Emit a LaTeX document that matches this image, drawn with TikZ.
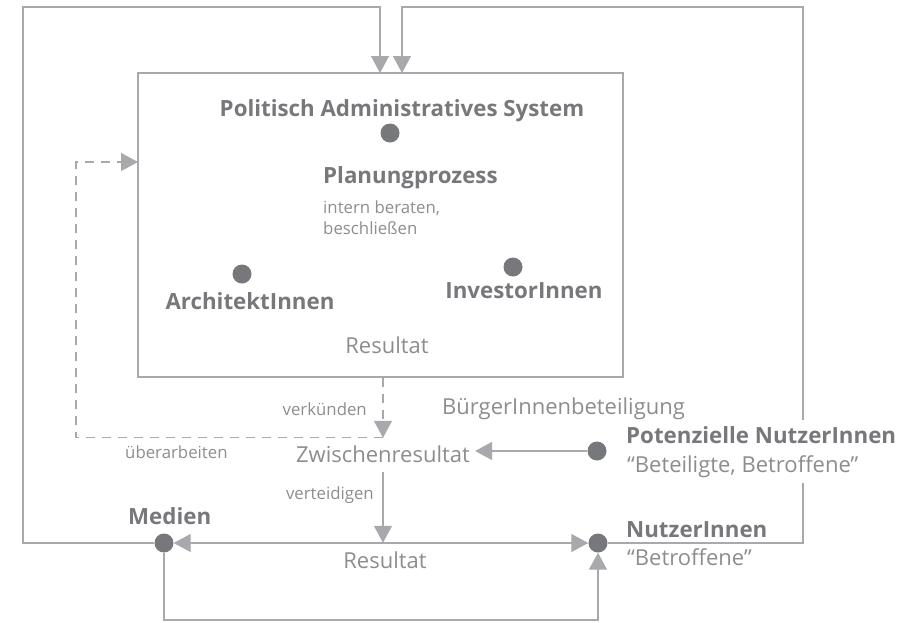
\documentclass[tikz,border=0pt]{standalone}
\usepackage{fontspec}
\setmainfont{Open Sans}
\usetikzlibrary{arrows.meta}
\definecolor{linegray}{HTML}{A8A9AC}
\definecolor{dotgray}{HTML}{77787B}
\definecolor{textgray}{HTML}{8C8D90}
\definecolor{labelgray}{HTML}{77787B}
\pgfdeclarelayer{background}
\pgfsetlayers{background,main}
\tikzset{
  >={Triangle[width=18pt,length=17pt]},
  plain/.style={draw=linegray, line width=1.3pt},
  conn/.style={plain, ->},
  both/.style={plain, <->},
  dconn/.style={plain, ->, dash pattern=on 9pt off 7pt},
  dot/.style={circle, fill=dotgray, minimum size=19pt, inner sep=0pt},
  actor/.style={font=\fontsize{22.3}{26}\selectfont\bfseries, text=labelgray, inner sep=0pt},
  plaintext/.style={font=\fontsize{22}{26}\selectfont, text=textgray, inner sep=0pt},
  note/.style={font=\fontsize{16.8}{20}\selectfont, text=textgray, inner sep=0pt},
}
\begin{document}
\begin{tikzpicture}[x=1pt,y=-1pt]
\useasboundingbox (0,0) rectangle (916,622);

% planning system box
\node[plain, minimum width=485pt, minimum height=304pt, inner sep=0pt] (box) at (380.5,225) {};
\coordinate (inA) at (380,73);
\coordinate (inB) at (402,73);
\coordinate (revin) at (138,162);

% actors inside the box
\node[actor, anchor=base] (pastext) at (402,116) {Politisch Administratives System};
\node[dot] (pas) at (390,133) {};
\node[actor, anchor=base west] (plan) at (323,183) {Planungprozess};
\node[note, anchor=base west] (beraten) at (323,213) {intern beraten,};
\node[note, anchor=base west] (beschl) at (323,234) {beschließen};
\node[dot] (arch) at (242,274) {};
\node[actor, anchor=base] (archtext) at (250,309) {ArchitektInnen};
\node[dot] (inv) at (513,267) {};
\node[actor, anchor=base] (invtext) at (524,298) {InvestorInnen};
\node[plaintext, anchor=base] (res1) at (387,353) {Resultat};

% intermediate and final result
\node[plaintext, anchor=base, text height=19pt, text depth=5pt, inner ysep=5pt, inner xsep=5pt] (zw) at (383,462) {Zwischenresultat};
\node[plaintext, anchor=base, text height=17pt, inner ysep=8pt] (res2) at (385,568) {Resultat};

% process labels
\node[note, anchor=base east] (verk) at (367,415) {verkünden};
\node[plaintext, anchor=base west] (buerger) at (442,414) {BürgerInnenbeteiligung};
\node[note, anchor=base west] (ueber) at (125,458) {überarbeiten};
\node[note, anchor=base east] (vert) at (374,499) {verteidigen};

% outside actors
\node[dot] (pot) at (597,451) {};
\node[actor, anchor=base west, fill=white, inner xsep=3pt, inner ysep=6pt] (pottext) at (623,443) {Potenzielle NutzerInnen};
\node[plaintext, anchor=base west, fill=white, inner xsep=3pt, inner ysep=6pt] (potsub) at (624,472) {“Beteiligte, Betroffene”};
\node[dot] (medien) at (164,543) {};
\node[actor, anchor=base west] (medtext) at (128,524) {Medien};
\node[dot] (nutzer) at (598,543) {};
\node[actor, anchor=base west] (nutztext) at (626,537) {NutzerInnen};
\node[plaintext, anchor=base west] (nutzsub) at (627,565) {“Betroffene”};

\begin{pgfonlayer}{background}
  % feedback loops into the planning system
  \draw[conn] (medien.west) -| (23,7) -| (inA);
  \draw[conn] (nutzer.east) -| (803,7) -| (inB);
  % announcing and revising
  \draw[dconn] (box.south -| zw) -- (zw.north);
  \draw[dconn] (zw.north) -| (76,300) |- (revin);
  % participation and defence
  \draw[conn] (pot.west) -- (pot.west -| zw.east);
  \draw[conn] (zw.south) -- (zw.south |- res2.north);
  \draw[both] (medien.east) -- (nutzer.west);
  \draw[conn] (medien.south) |- (400,620) -| (nutzer.south);
\end{pgfonlayer}
\end{tikzpicture}
\end{document}
